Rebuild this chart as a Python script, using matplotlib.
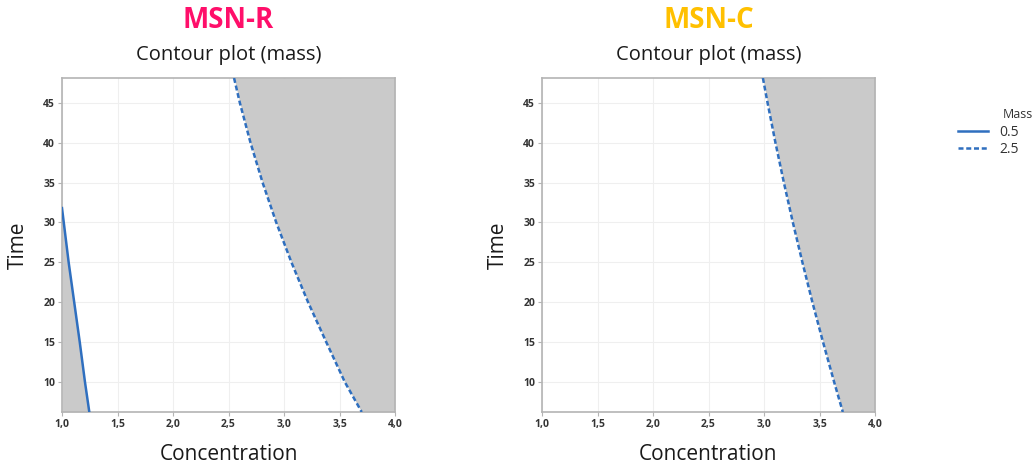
import numpy as np
import matplotlib.pyplot as plt
from matplotlib.lines import Line2D
import matplotlib.ticker as ticker

# contour lines (concentration, time)
r05_time = [31.8, 25.0, 20.0, 15.0, 10.0, 6.25]
r05_conc = [1.00, 1.060, 1.110, 1.160, 1.207, 1.246]

r25_time = [48.1, 45.0, 40.0, 35.0, 30.0, 25.0, 20.0, 15.0, 10.0, 6.25]
r25_conc = [2.550, 2.602, 2.698, 2.807, 2.930, 3.067, 3.217, 3.381, 3.548, 3.700]

c25_time = [48.1, 45.0, 40.0, 35.0, 30.0, 25.0, 20.0, 15.0, 10.0, 6.25]
c25_conc = [2.990, 3.032, 3.103, 3.179, 3.260, 3.346, 3.436, 3.532, 3.632, 3.710]

xticks = [1.0, 1.5, 2.0, 2.5, 3.0, 3.5, 4.0]
yticks = [10, 15, 20, 25, 30, 35, 40, 45]
xlim = (1.0, 4.0)
ylim = (6.25, 48.1)

line_col = '#2f6fbf'
shade = '#cacaca'
dash = (0, (2.0, 1.1))
plt.rcParams['font.family'] = ['Open Sans', 'DejaVu Sans']

fig = plt.figure(figsize=(10.34, 4.70), dpi=100)
ax1 = fig.add_axes([62/1034, 1-412/470, 333/1034, 334/470])
ax2 = fig.add_axes([542/1034, 1-412/470, 333/1034, 334/470])


def style(ax):
    ax.set_xlim(*xlim)
    ax.set_ylim(*ylim)
    ax.set_xticks(xticks)
    ax.set_yticks(yticks)
    ax.xaxis.set_major_formatter(ticker.FuncFormatter(lambda v, p: f"{v:.1f}".replace('.', ',')))
    ax.grid(True, color='#efefef', lw=0.8)
    ax.set_axisbelow(True)
    for s in ax.spines.values():
        s.set_color('#b4b4b4')
        s.set_linewidth(1.2)
    ax.tick_params(length=3, color='#b4b4b4', labelsize=7.5, labelcolor='#333333', pad=2)
    for lab in ax.get_xticklabels() + ax.get_yticklabels():
        lab.set_fontweight('bold')
    ax.set_xlabel('Concentration', fontsize=15, color='#1a1a1a', labelpad=10)
    ax.set_ylabel('Time', fontsize=15, color='#1a1a1a', labelpad=10)


# MSN-R
ax1.fill_betweenx(r05_time, xlim[0], r05_conc, color=shade, lw=0, zorder=1)
ax1.fill_betweenx(r25_time, r25_conc, xlim[1], color=shade, lw=0, zorder=1)
ax1.plot(r05_conc, r05_time, color=line_col, lw=1.8, zorder=3)
ax1.plot(r25_conc, r25_time, color=line_col, lw=1.8, ls=dash, zorder=3)
style(ax1)

# MSN-C
ax2.fill_betweenx(c25_time, c25_conc, xlim[1], color=shade, lw=0, zorder=1)
ax2.plot(c25_conc, c25_time, color=line_col, lw=1.8, ls=dash, zorder=3)
style(ax2)

for ax, name, col in [(ax1, 'MSN-R', '#ff0f6a'), (ax2, 'MSN-C', '#ffc000')]:
    cx = (ax.get_position().x0 + ax.get_position().x1) / 2
    fig.text(cx, 1-20/470, name, color=col, fontsize=20, fontweight='bold', ha='center', va='center')
    fig.text(cx, 1-55/470, 'Contour plot (mass)', color='#1a1a1a', fontsize=14.5, ha='center', va='center')

# legend, title placed separately as in the original
handles = [Line2D([], [], color=line_col, lw=1.8),
           Line2D([], [], color=line_col, lw=1.8, ls=dash)]
leg = fig.legend(handles, ['0.5', '2.5'], loc='upper left',
                 bbox_to_anchor=(945/1034, 1-112/470), frameon=False,
                 fontsize=10, handlelength=2.2, labelspacing=0.2)
for t in leg.get_texts():
    t.set_color('#333333')
fig.text(1003/1034, 1-115/470, 'Mass', color='#333333', fontsize=9, ha='left', va='center')

fig.savefig('out.png', dpi=100)
